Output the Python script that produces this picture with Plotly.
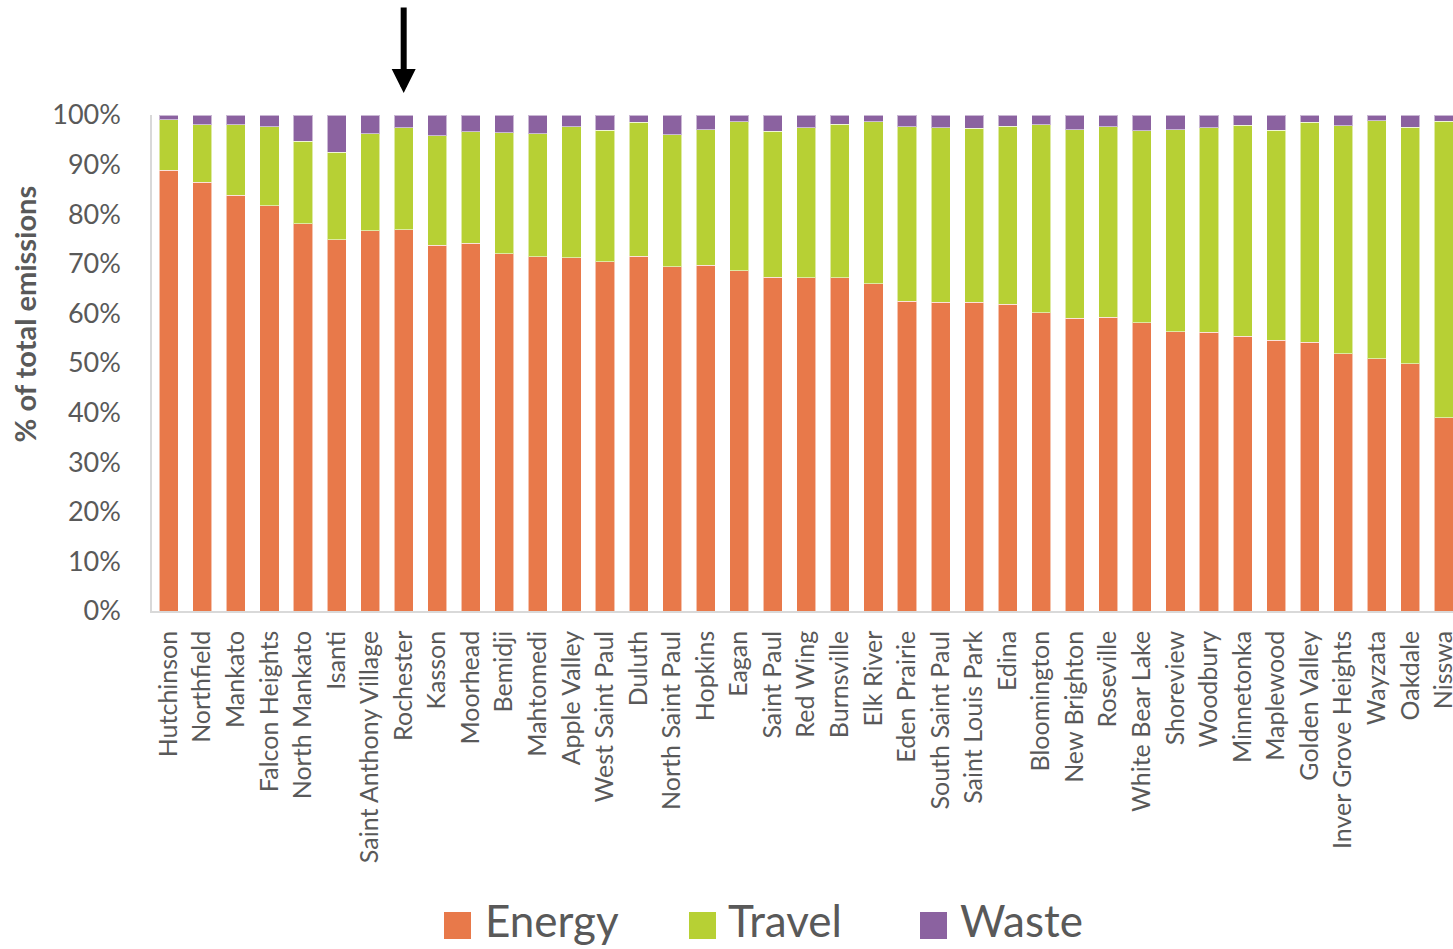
import plotly.graph_objects as go

cities = ["Hutchinson", "Northfield", "Mankato", "Falcon Heights", "North Mankato", "Isanti",
          "Saint Anthony Village", "Rochester", "Kasson", "Moorhead", "Bemidji", "Mahtomedi",
          "Apple Valley", "West Saint Paul", "Duluth", "North Saint Paul", "Hopkins", "Eagan",
          "Saint Paul", "Red Wing", "Burnsville", "Elk River", "Eden Prairie", "South Saint Paul",
          "Saint Louis Park", "Edina", "Bloomington", "New Brighton", "Roseville", "White Bear Lake",
          "Shoreview", "Woodbury", "Minnetonka", "Maplewood", "Golden Valley", "Inver Grove Heights",
          "Wayzata", "Oakdale", "Nisswa"]

energy = [88.9, 86.4, 83.8, 81.7, 78.1, 74.9, 76.7, 76.9, 73.7, 74.1, 72.0, 71.4,
          71.2, 70.4, 71.5, 69.4, 69.7, 68.6, 67.3, 67.2, 67.2, 66.0, 62.5, 62.2,
          62.2, 61.8, 60.1, 59.0, 59.2, 58.1, 56.3, 56.2, 55.4, 54.6, 54.2, 51.9,
          50.9, 49.9, 39.0]
travel = [10.1, 11.6, 14.2, 15.9, 16.6, 17.6, 19.5, 20.5, 22.1, 22.5, 24.4, 24.8,
          26.4, 26.5, 27.0, 26.6, 27.3, 30.0, 29.4, 30.2, 30.9, 32.6, 35.1, 35.2,
          35.1, 35.9, 37.9, 38.0, 38.4, 38.7, 40.7, 41.2, 42.5, 42.3, 44.3, 45.9,
          47.9, 47.6, 59.7]
waste = [1.0, 2.0, 2.0, 2.4, 5.3, 7.5, 3.8, 2.6, 4.2, 3.4, 3.6, 3.8,
         2.4, 3.1, 1.5, 4.0, 3.0, 1.4, 3.3, 2.6, 1.9, 1.4, 2.4, 2.6,
         2.7, 2.3, 2.0, 3.0, 2.4, 3.2, 3.0, 2.6, 2.1, 3.1, 1.5, 2.2,
         1.2, 2.5, 1.3]

series_names = ["Energy", "Travel", "Waste"]
y_ticks = [0, 10, 20, 30, 40, 50, 60, 70, 80, 90, 100]
y_ticklabels = [f"{v}%" for v in y_ticks]
highlight = "Rochester"

FONT = "Lato"
GREY = "#595959"
COLORS = {"Energy": "#E8794A", "Travel": "#B7D034", "Waste": "#8B62A0"}
edge = dict(color="rgba(255,255,255,0.55)", width=1)

W, H = 1453, 949
ML, MR, MT, MB = 152, 0, 115, 338
PW, PH = W - ML - MR, H - MT - MB


def px_x(p):
    return (p - ML) / PW


def px_y(p):
    return (MT + PH - p) / PH


fig = go.Figure()
for name, vals in zip(series_names, (energy, travel, waste)):
    fig.add_trace(go.Bar(x=cities, y=vals, name=name,
                         marker=dict(color=COLORS[name], line=edge)))

fig.update_layout(
    barmode="stack",
    bargap=0.43,
    width=W, height=H, autosize=False,
    margin=dict(l=ML, r=MR, t=MT, b=MB, pad=0),
    paper_bgcolor="white", plot_bgcolor="white",
    font=dict(family=FONT, color=GREY),
    showlegend=False,
)

# legend drawn as swatches + text labels below the chart
legend_pos = {"Energy": (444, 485), "Travel": (689, 728), "Waste": (920, 960)}
for name in series_names:
    sx, tx = legend_pos[name]
    fig.add_shape(type="rect", xref="paper", yref="paper",
                  x0=px_x(sx), x1=px_x(sx + 27), y0=px_y(939), y1=px_y(912),
                  fillcolor=COLORS[name], line=dict(width=0), layer="above")
    fig.add_annotation(text=name, xref="paper", yref="paper",
                       x=px_x(tx - 2), y=px_y(920), xanchor="left", yanchor="middle",
                       showarrow=False, font=dict(size=44, color=GREY, family=FONT))

fig.update_xaxes(
    type="category", range=[-0.5, 38.27], tickangle=-90,
    tickfont=dict(size=25, color=GREY, family=FONT),
    showline=True, linecolor="#d9d9d9", linewidth=1.5, ticks="",
    showgrid=False, ticklabelstandoff=8, tickmode="linear", dtick=1, automargin=False,
)
fig.update_yaxes(
    range=[0, 100], tickmode="array", tickvals=y_ticks, ticktext=y_ticklabels,
    tickfont=dict(size=27, color=GREY, family=FONT),
    showline=True, linecolor="#d9d9d9", linewidth=1.5, ticks="",
    showgrid=False, ticklabelstandoff=24, zeroline=False, automargin=False,
)
fig.add_annotation(
    text="<b>% of total emissions</b>", textangle=-90,
    xref="paper", yref="paper", x=-0.098, y=0.599, xanchor="center", yanchor="middle",
    showarrow=False, font=dict(size=29, color=GREY, family=FONT),
)
fig.add_annotation(
    x=highlight, xref="x", y=1.0444, yref="paper", text="",
    showarrow=True, ax=0, ay=-87, arrowhead=2, arrowwidth=6, arrowsize=0.8,
    arrowcolor="black", standoff=0,
)

fig.write_html("out.html")
